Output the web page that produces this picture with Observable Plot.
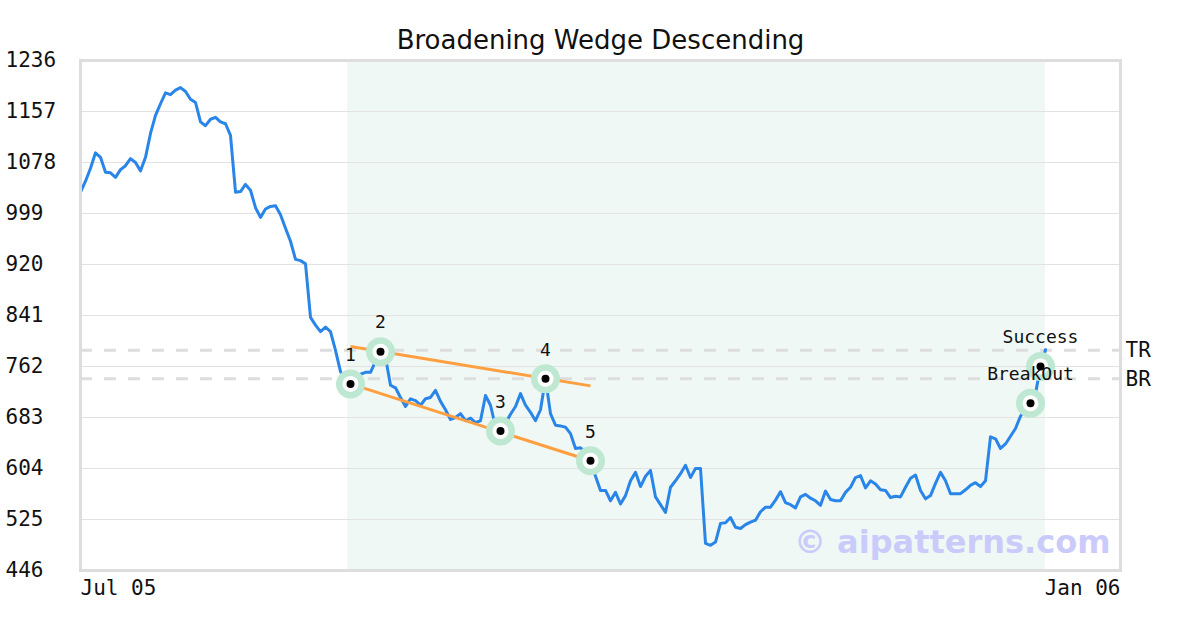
<!DOCTYPE html>
<html>
<head>
<meta charset="utf-8">
<script src="https://cdn.jsdelivr.net/npm/d3@7"></script>
<script src="https://cdn.jsdelivr.net/npm/@observablehq/plot@0.6"></script>
<style>
  html, body { margin: 0; padding: 0; background: #ffffff; }
</style>
</head>
<body>
<div id="chart"></div>
<script>
// ---- data ----
const title = "Broadening Wedge Descending";
const watermark = "© aipatterns.com";

// daily closes (trading-day index 0..193)
const price = [
  1032,1049,1069,1093,1086,1063,1062,1055,1067,1073,
  1084,1078,1065,1086,1123,1151,1169,1186,1183,1190,
  1194,1188,1176,1171,1141,1135,1145,1148,1141,1138,
  1120,1032,1033,1044,1035,1008,993,1006,1010,1011,
  997,976,956,928,926,921,838,826,816,823,
  816,787,754,742,735,743,750,753,753,770,
  785,776,733,729,714,700,712,709,702,712,
  714,725,708,695,680,683,689,678,682,675,
  678,717,702,669,662,674,688,700,720,702,
  691,678,695,743,689,671,670,668,658,635,
  636,630,616,592,570,570,554,567,549,562,
  585,598,576,592,601,560,548,536,575,585,
  596,609,590,604,604,488,485,490,519,520,
  528,513,511,517,521,524,537,544,544,555,
  568,551,548,543,560,564,558,554,547,569,
  556,554,554,567,575,590,593,574,585,580,
  571,570,559,561,560,575,589,594,570,557,
  562,581,598,585,565,565,565,571,578,582,
  576,585,653,650,635,642,654,666,685,696,
  705,720,762,788
];

const xDomain = [0, 208];
const yTicks = [446, 525, 604, 683, 762, 841, 920, 999, 1078, 1157, 1236];
const xTickPositions = [0, 208];
const xTickLabels = ["Jul 05", "Jan 06"];

// pattern window
const patternStart = [53.4];
const patternEnd = [193];

// pivot points
const pointIdx = [54, 60, 84, 93, 102, 190, 192];
const pointVal = [735, 785, 662, 743, 616, 705, 762];
const pointLabel = ["1", "2", "3", "4", "5", "BreakOut", "Success"];

// wedge trend lines
const wedgeStartIdx = [54, 54];
const wedgeStartVal = [793, 735];
const wedgeEndIdx = [102, 102];
const wedgeEndVal = [732, 616];

// levels
const levelVal = [787, 743];
const levelLabel = ["TR", "BR"];

// ---- chart ----
const mono = "'DejaVu Sans Mono', monospace";
const sans = "'DejaVu Sans', sans-serif";

const idx = (d, i) => i;
const points = pointIdx.map((x, i) => ({x, y: pointVal[i], label: pointLabel[i]}));
const wedges = wedgeStartIdx.map((x1, i) => ({x1, y1: wedgeStartVal[i], x2: wedgeEndIdx[i], y2: wedgeEndVal[i]}));
const windowRect = patternStart.map((s, i) => ({s, e: patternEnd[i]}));

const chart = Plot.plot({
  width: 1200,
  height: 630,
  marginLeft: 80,
  marginRight: 80,
  marginTop: 60,
  marginBottom: 60,
  x: {type: "linear", domain: xDomain, axis: null},
  y: {type: "linear", domain: [yTicks[0], yTicks[yTicks.length - 1]], axis: null},
  style: {background: "#ffffff", overflow: "visible", fontFamily: sans, color: "#111"},
  marks: [
    Plot.rect(windowRect, {x1: "s", x2: "e", fill: "#eff8f4"}),
    Plot.ruleY(yTicks, {stroke: "#e2e2e2", strokeWidth: 1}),
    Plot.ruleY(levelVal, {stroke: "#dddddd", strokeWidth: 3, strokeDasharray: "12,12"}),
    Plot.line(price, {x: idx, y: d => d, stroke: "#2a85e8", strokeWidth: 3, curve: "linear"}),
    Plot.link(wedges, {x1: "x1", y1: "y1", x2: "x2", y2: "y2", stroke: "#ff9f40", strokeWidth: 3}),
    Plot.dot(points, {x: "x", y: "y", r: 14.5, fill: "#bfe8d3", stroke: null}),
    Plot.dot(points, {x: "x", y: "y", r: 8, fill: "#ffffff", stroke: null}),
    Plot.dot(points, {x: "x", y: "y", r: 4, fill: "#000000", stroke: null}),
    Plot.text(points, {x: "x", y: "y", text: "label", dy: -29, lineAnchor: "middle", fontSize: 18, fontFamily: mono, fill: "#111"}),
    Plot.frame({stroke: "#dddddd", strokeWidth: 3}),
    // y tick labels
    Plot.text(yTicks, {y: d => d, text: d => String(d), frameAnchor: "left", dx: -75, textAnchor: "start", lineAnchor: "middle", fontSize: 21, fontFamily: mono, fill: "#111"}),
    // x tick labels
    Plot.text([xTickLabels[0]], {x: [xTickPositions[0]], frameAnchor: "bottom", dy: 18, textAnchor: "start", lineAnchor: "middle", fontSize: 21, fontFamily: mono, fill: "#111"}),
    Plot.text([xTickLabels[1]], {x: [xTickPositions[1]], frameAnchor: "bottom", dy: 18, textAnchor: "end", lineAnchor: "middle", fontSize: 21, fontFamily: mono, fill: "#111"}),
    // level labels
    Plot.text(levelLabel, {y: levelVal, frameAnchor: "right", dx: 5, textAnchor: "start", lineAnchor: "middle", fontSize: 21, fontFamily: mono, fill: "#111"}),
    // title
    Plot.text([title], {frameAnchor: "top", dy: -20, lineAnchor: "middle", fontSize: 26, fontFamily: sans, fill: "#111"}),
    // watermark
    Plot.text([watermark], {frameAnchor: "bottom-right", dx: -10, dy: -28, textAnchor: "end", lineAnchor: "middle", fontSize: 32, fontWeight: "bold", fontFamily: sans, fill: "#cbcbfb"})
  ]
});
document.getElementById("chart").appendChild(chart);
</script>
</body>
</html>
